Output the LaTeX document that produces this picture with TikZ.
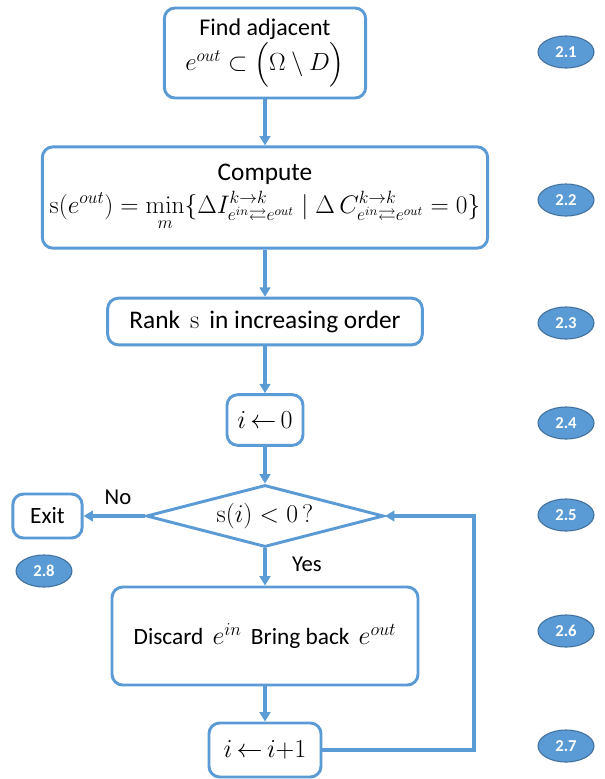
\RequirePackage{fix-cm}
\documentclass[tikz,border=0pt]{standalone}
\usepackage{amsmath}
\usepackage{amssymb}
\usepackage[no-math]{fontspec}
\setmainfont{Carlito}
\usetikzlibrary{arrows.meta, shapes.geometric, calc}
\definecolor{flowblue}{HTML}{5B9BD5}
\definecolor{flowdark}{HTML}{41719C}
\newcommand{\flowmath}[1]{{\fontsize{19.5}{23}\selectfont$#1$}}

\begin{document}
\begin{tikzpicture}[
  x=0.75pt, y=-0.75pt,
  box/.style={draw=flowblue, line width=2.2pt, rounded corners=8pt, fill=white, align=center, font=\fontsize{17.5}{21}\selectfont, inner sep=2pt},
  decision/.style={draw=flowblue, line width=2.2pt, diamond, shape aspect=3.8, fill=white, inner sep=0pt, minimum width=178pt, minimum height=46.5pt},
  tag/.style={ellipse, fill=flowblue, draw=flowdark, line width=0.8pt, minimum width=42pt, minimum height=24pt, inner sep=0pt, text=white, font=\fontsize{12.5}{14}\selectfont\bfseries},
  arr/.style={-{Triangle[length=7pt, width=8pt]}, draw=flowblue, line width=2.8pt},
  lbl/.style={font=\fontsize{17}{20}\selectfont},
]
  \useasboundingbox (0,0) rectangle (605,779);

  \node[box, font=\fontsize{18}{21}\selectfont, minimum width=151pt, minimum height=67.5pt] (find) at (265,53) {Find adjacent\\[1pt]{\fontsize{18.6}{22}\selectfont$e^{out}\subset\Bigl(\Omega\setminus D\Bigr)$}};
  \node[box, font=\fontsize{19}{22}\selectfont, minimum width=334pt, minimum height=76pt] (comp) at (265,197.5) {Compute\\[3pt]{\fontsize{19}{22}\selectfont$\displaystyle \mathrm{s}(e^{out})=\min_{m}\{\Delta I^{k\to k}_{e^{in}\rightleftarrows e^{out}}\mid \Delta\, C^{k\to k}_{e^{in}\rightleftarrows e^{out}}=0\}$}};
  \node[box, font=\fontsize{19}{22}\selectfont, minimum width=236pt, minimum height=35pt] (rank) at (265,321.5) {Rank \,\flowmath{\mathrm{s}}\, in increasing order};
  \node[box, minimum width=57pt, minimum height=38pt] (init) at (265,420) {\flowmath{i\,{\leftarrow}\,0}};
  \node[decision] (test) at (265,516) {{\fontsize{19.2}{22}\selectfont$\mathrm{s}(i)<0\,?$}};
  \node[box, minimum width=52pt, minimum height=33pt] (exit) at (47.5,516) {Exit};
  \node[box, minimum width=229.5pt, minimum height=73.5pt] (swap) at (265,636) {Discard \,\flowmath{e^{in}}\, Bring back \,\flowmath{e^{out}}};
  \node[box, minimum width=84pt, minimum height=40.5pt] (next) at (265,750) {\flowmath{i\,{\leftarrow}\,i{+}1}};
  \coordinate (turn) at (474,516);

  \node[lbl] (no) at (118,497) {No};
  \node[lbl] (yes) at (307,564) {Yes};

  \draw[arr] (find) -- (comp);
  \draw[arr] (comp) -- (rank);
  \draw[arr] (rank) -- (init);
  \draw[arr] (init) -- (test);
  \draw[arr] (test) -- (swap);
  \draw[arr] (swap) -- (next);
  \draw[arr] (test) -- (exit);
  \draw[arr] (next.east) -| (turn) -- (test.east);

  \node[tag] (t1) at (566,52) {2.1};
  \node[tag] (t2) at (566,200) {2.2};
  \node[tag] (t3) at (566,323) {2.3};
  \node[tag] (t4) at (566,423) {2.4};
  \node[tag] (t5) at (566,515) {2.5};
  \node[tag] (t6) at (566,631) {2.6};
  \node[tag] (t7) at (566,746) {2.7};
  \node[tag] (t8) at (44,571) {2.8};
\end{tikzpicture}
\end{document}
